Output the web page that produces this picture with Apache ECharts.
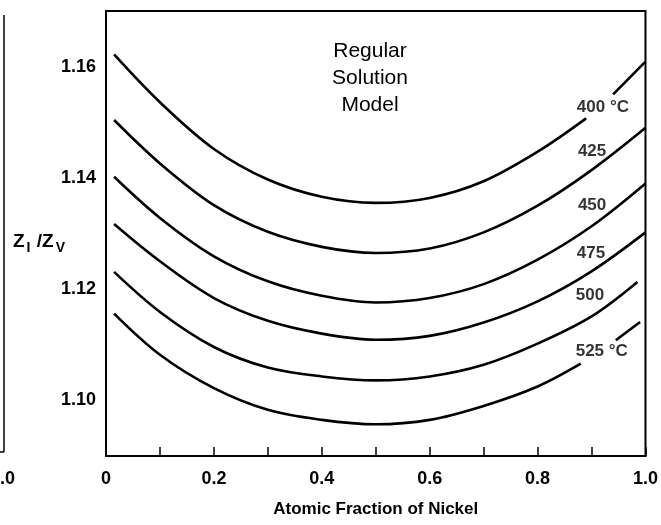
<!DOCTYPE html>
<html>
<head>
<meta charset="utf-8">
<script src="https://cdn.jsdelivr.net/npm/echarts@6/dist/echarts.min.js"></script>
<style>
  html, body { margin: 0; padding: 0; background: #fff; }
  #chart { width: 661px; height: 525px; }
</style>
</head>
<body>
<div id="chart"></div>
<script>
// curves: [atomic fraction Ni, Zi/Zv], null = gap for the inline label
const curve400 = [[0.015,1.1622],[0.1,1.1536],[0.2,1.1452],[0.3,1.1397],[0.4,1.1366],[0.5,1.1355],[0.6,1.1364],[0.7,1.1394],[0.8,1.1447],[0.89,1.1507],[0.915,null],[0.94,1.1550],[1.0,1.1609]];
const curve425 = [[0.015,1.1504],[0.1,1.1426],[0.2,1.1351],[0.3,1.1303],[0.4,1.1276],[0.5,1.1265],[0.6,1.1273],[0.7,1.1302],[0.8,1.1350],[0.9,1.1414],[1.0,1.1490]];
const curve450 = [[0.015,1.1402],[0.1,1.1328],[0.2,1.1259],[0.3,1.1214],[0.4,1.1188],[0.5,1.1176],[0.6,1.1184],[0.7,1.1209],[0.8,1.1253],[0.9,1.1313],[1.0,1.1390]];
const curve475 = [[0.015,1.1317],[0.1,1.1250],[0.2,1.1184],[0.3,1.1143],[0.4,1.1120],[0.5,1.1109],[0.6,1.1116],[0.7,1.1140],[0.8,1.1178],[0.9,1.1232],[1.0,1.1302]];
const curve500 = [[0.015,1.1231],[0.1,1.1159],[0.2,1.1096],[0.3,1.1059],[0.4,1.1043],[0.5,1.1036],[0.6,1.1043],[0.7,1.1064],[0.8,1.1102],[0.9,1.1151],[0.985,1.1213]];
const curve525 = [[0.015,1.1156],[0.1,1.1082],[0.2,1.1022],[0.3,1.0983],[0.4,1.0965],[0.5,1.0957],[0.6,1.0965],[0.7,1.0990],[0.8,1.1025],[0.88,1.1066],[0.91,null],[0.945,1.1108],[0.99,1.1141]];

const labelText = ['400 °C', '425', '450', '475', '500', '525 °C'];
const labelX = [0.921, 0.901, 0.901, 0.899, 0.897, 0.919];
const labelY = [1.1527, 1.1447, 1.1351, 1.1265, 1.1189, 1.1088];

const font = '"Liberation Sans", Arial, sans-serif';

var myChart = echarts.init(document.getElementById('chart'));

function lineSeries(data) {
  return {
    type: 'line',
    data: data.map(p => [p[0], p[1] === null ? '-' : p[1]]),
    smooth: 0.35,
    showSymbol: false,
    connectNulls: false,
    silent: true,
    lineStyle: { color: '#000', width: 2.6 }
  };
}

var option = {
  animation: false,
  backgroundColor: '#fff',
  grid: {
    left: 106, right: 11, top: 11, bottom: 69,
    show: true, borderColor: '#000', borderWidth: 2
  },
  xAxis: {
    type: 'value', min: 0, max: 1, interval: 0.1,
    name: 'Atomic Fraction of Nickel',
    nameLocation: 'middle', nameGap: 45,
    nameTextStyle: { fontFamily: font, fontWeight: 'bold', fontSize: 17, color: '#000' },
    axisLine: { show: true, lineStyle: { color: '#000', width: 2 } },
    axisTick: { show: true, inside: true, length: 9, lineStyle: { color: '#000', width: 1.5 } },
    splitLine: { show: false },
    axisLabel: {
      margin: 14, color: '#000', fontFamily: font, fontWeight: 'bold', fontSize: 18,
      formatter: function (v) {
        if (v === 0) return '0';
        return Math.round(v * 10) % 2 === 0 ? v.toFixed(1) : '';
      }
    }
  },
  yAxis: {
    type: 'value', min: 1.09, max: 1.17, interval: 0.01,
    axisLine: { show: true, lineStyle: { color: '#000', width: 2 } },
    axisTick: { show: false },
    splitLine: { show: false },
    axisLabel: {
      margin: 10, color: '#000', fontFamily: font, fontWeight: 'bold', fontSize: 18,
      formatter: function (v) {
        var k = Math.round(v * 100);
        return (k % 2 === 0 && k < 117) ? v.toFixed(2) : '';
      }
    }
  },
  graphic: [
    {
      type: 'text', x: 13, y: 229,
      style: {
        text: 'Z{s|I} /Z{s|V}',
        fontFamily: font, fontWeight: 'bold', fontSize: 19, fill: '#000',
        rich: { s: { fontFamily: font, fontWeight: 'bold', fontSize: 14, fill: '#000', padding: [12, 1, 0, 2] } }
      }
    },
    {
      type: 'text', x: 370, y: 38,
      style: {
        text: 'Regular\nSolution\nModel', align: 'center',
        fontFamily: font, fontSize: 21, lineHeight: 27, fill: '#000'
      }
    },
    { type: 'line', shape: { x1: 4, y1: 15, x2: 4, y2: 452 }, style: { stroke: '#000', lineWidth: 1.5 } },
    { type: 'line', shape: { x1: 0, y1: 452, x2: 4, y2: 452 }, style: { stroke: '#000', lineWidth: 1.5 } },
    { type: 'text', x: 0, y: 470, style: { text: '.0', fontFamily: font, fontWeight: 'bold', fontSize: 18, fill: '#000' } }
  ],
  series: [
    lineSeries(curve400), lineSeries(curve425), lineSeries(curve450),
    lineSeries(curve475), lineSeries(curve500), lineSeries(curve525),
    {
      type: 'scatter', symbolSize: 0, silent: true,
      data: labelText.map((t, i) => [labelX[i], labelY[i], t]),
      label: {
        show: true, position: 'inside', color: '#000',
        fontFamily: font, fontWeight: 'bold', fontSize: 17,
        formatter: p => p.value[2]
      }
    }
  ]
};
myChart.setOption(option);
</script>
</body>
</html>
